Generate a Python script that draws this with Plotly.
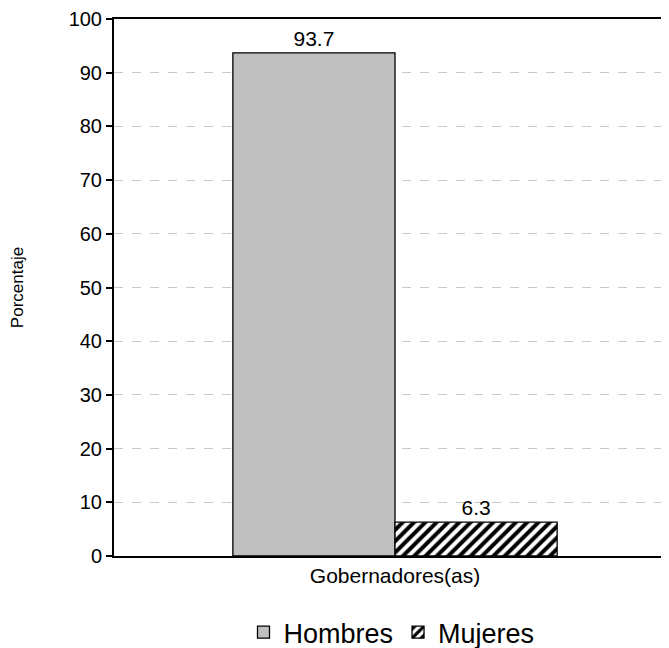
import plotly.graph_objects as go

CATEGORIAS = ["Gobernadores(as)"]
HOMBRES = [93.7]
MUJERES = [6.3]
Y_TICKS = list(range(0, 101, 10))

FONT = "Liberation Sans, Arial, sans-serif"

fig = go.Figure()
fig.add_trace(go.Bar(
    name="Hombres",
    x=CATEGORIAS,
    y=HOMBRES,
    marker=dict(color="#C0C0C0", line=dict(color="black", width=1.3)),
    text=[f"{v:.1f}" for v in HOMBRES],
    textposition="outside",
    textfont=dict(size=21, color="black", family=FONT),
    cliponaxis=False,
))
fig.add_trace(go.Bar(
    name="Mujeres",
    x=CATEGORIAS,
    y=MUJERES,
    marker=dict(
        color="white",
        line=dict(color="black", width=1.3),
        pattern=dict(shape="/", fgcolor="black", bgcolor="white",
                     fgopacity=1, size=8, solidity=0.5),
    ),
    text=[f"{v:.1f}" for v in MUJERES],
    textposition="outside",
    textfont=dict(size=21, color="black", family=FONT),
    cliponaxis=False,
))

# la página tiene 8px de margen en el body: se compensa en los márgenes
fig.update_layout(
    width=669,
    height=648,
    barmode="group",
    bargap=0.423,
    bargroupgap=0,
    margin=dict(l=106, r=8, t=11, b=100),
    paper_bgcolor="white",
    plot_bgcolor="white",
    font=dict(family=FONT, color="black"),
    showlegend=True,
    legend=dict(
        orientation="h", xref="paper", x=0.5, xanchor="center",
        yref="container", y=0.036, yanchor="middle",
        font=dict(size=27, family=FONT), traceorder="normal",
        itemwidth=30,
    ),
    xaxis=dict(
        range=[-0.5, 0.4875],
        showline=True, linecolor="black", linewidth=1.5, mirror=True,
        ticks="", tickfont=dict(size=21, family=FONT),
        showgrid=False, automargin=False,
    ),
    yaxis=dict(
        range=[0, 100],
        tickvals=Y_TICKS,
        showline=True, linecolor="black", linewidth=2,
        ticks="outside", ticklen=6, tickcolor="black", tickwidth=1.5,
        tickfont=dict(size=20, family=FONT),
        ticklabeloverflow="allow",
        showgrid=True, gridcolor="#C8C8C8", griddash="dash", gridwidth=1,
        zeroline=False, automargin=False,
        title=dict(text="Porcentaje", font=dict(size=17, family=FONT), standoff=44),
    ),
)

fig.write_html("out.html")
